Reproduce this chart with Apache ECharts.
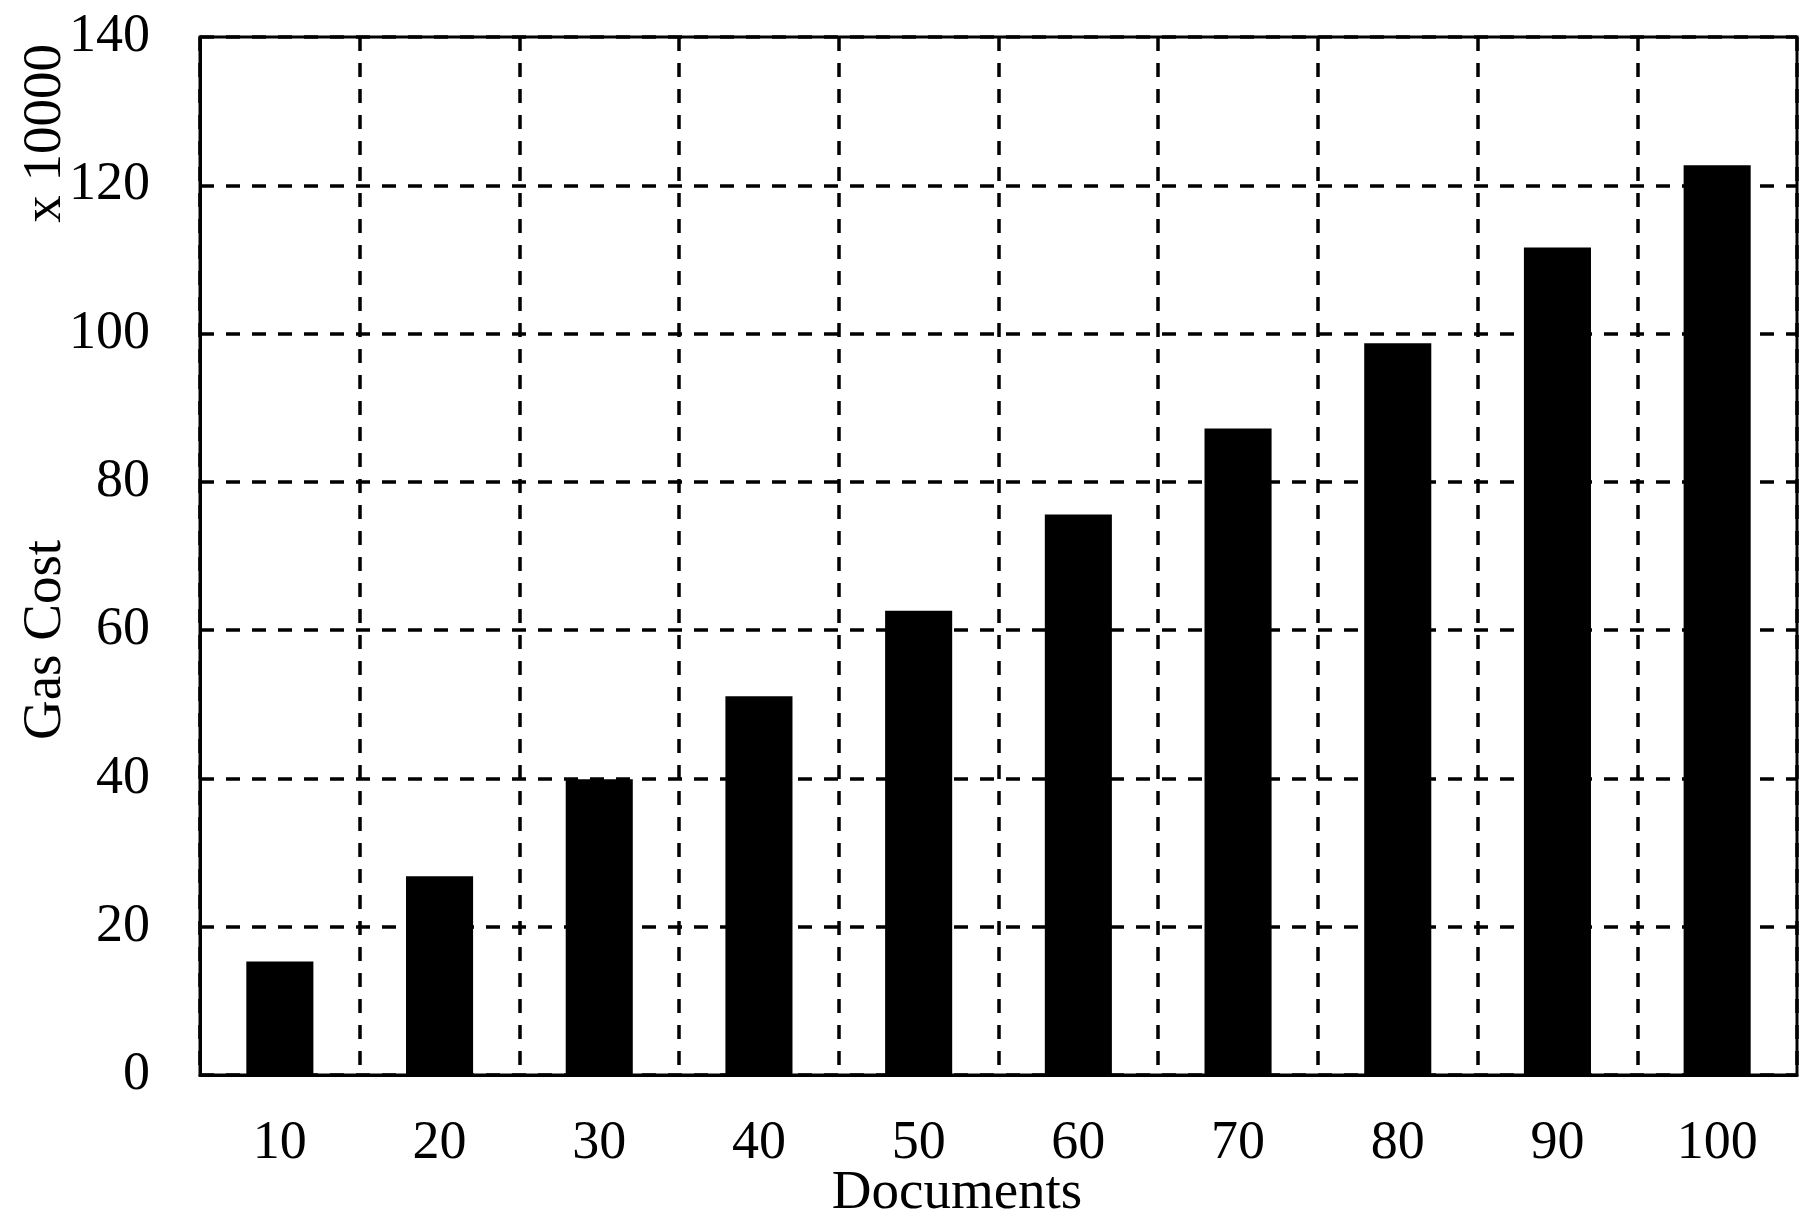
<!DOCTYPE html>
<html>
<head>
<meta charset="utf-8">
<script src="https://cdn.jsdelivr.net/npm/echarts@6/dist/echarts.min.js"></script>
<style>
  html, body { margin: 0; padding: 0; background: #fff; }
  #chart { width: 1810px; height: 1220px; }
</style>
</head>
<body>
<div id="chart"></div>
<script>
// documents count per batch
var documents = ['10', '20', '30', '40', '50', '60', '70', '80', '90', '100'];
// gas cost, in units of 10000
var gasCost = [15.3, 26.8, 39.9, 51.1, 62.6, 75.6, 87.2, 98.7, 111.6, 122.7];

var serif = '"Liberation Serif", "DejaVu Serif", serif';
var dashed = { color: '#000', width: 3.5, type: [14, 12] };

var chart = echarts.init(document.getElementById('chart'));
chart.setOption({
    backgroundColor: '#fff',
    animation: false,
    grid: {
        left: 200,
        right: 13,
        top: 37,
        bottom: 145,
        outerBoundsMode: 'none',
        show: true,
        borderColor: '#000',
        borderWidth: 3
    },
    xAxis: {
        type: 'category',
        data: documents,
        name: 'Documents',
        nameLocation: 'middle',
        nameGap: 91,
        nameMoveOverlap: false,
        // shift name a bit left of the plot centre, as in the original
        nameTextStyle: { fontFamily: serif, fontSize: 55, color: '#000', padding: [0, 83, 0, 0] },
        axisLine: { lineStyle: { color: '#000', width: 3 } },
        axisTick: { show: false },
        axisLabel: { fontFamily: serif, fontSize: 54, color: '#000', margin: 42 },
        splitLine: { show: true, interval: 0, lineStyle: dashed }
    },
    yAxis: {
        type: 'value',
        min: 0,
        max: 140,
        interval: 20,
        name: 'Gas Cost',
        nameLocation: 'middle',
        nameRotate: 90,
        nameGap: 127,
        nameMoveOverlap: false,
        // rotated text: right padding pushes it down the axis
        nameTextStyle: { fontFamily: serif, fontSize: 55, color: '#000', padding: [0, 168, 0, 0] },
        axisLine: { show: true, lineStyle: { color: '#000', width: 3 } },
        axisTick: { show: false },
        axisLabel: { fontFamily: serif, fontSize: 54, color: '#000', margin: 50 },
        splitLine: { show: true, lineStyle: dashed }
    },
    graphic: [{
        type: 'text',
        left: 18,
        top: 44,
        rotation: Math.PI / 2,
        style: {
            text: 'x 10000',
            font: '55px ' + serif,
            fill: '#000'
        }
    }],
    series: [{
        type: 'bar',
        data: gasCost,
        barWidth: '42%',
        itemStyle: { color: '#000' }
    }]
});
</script>
</body>
</html>
